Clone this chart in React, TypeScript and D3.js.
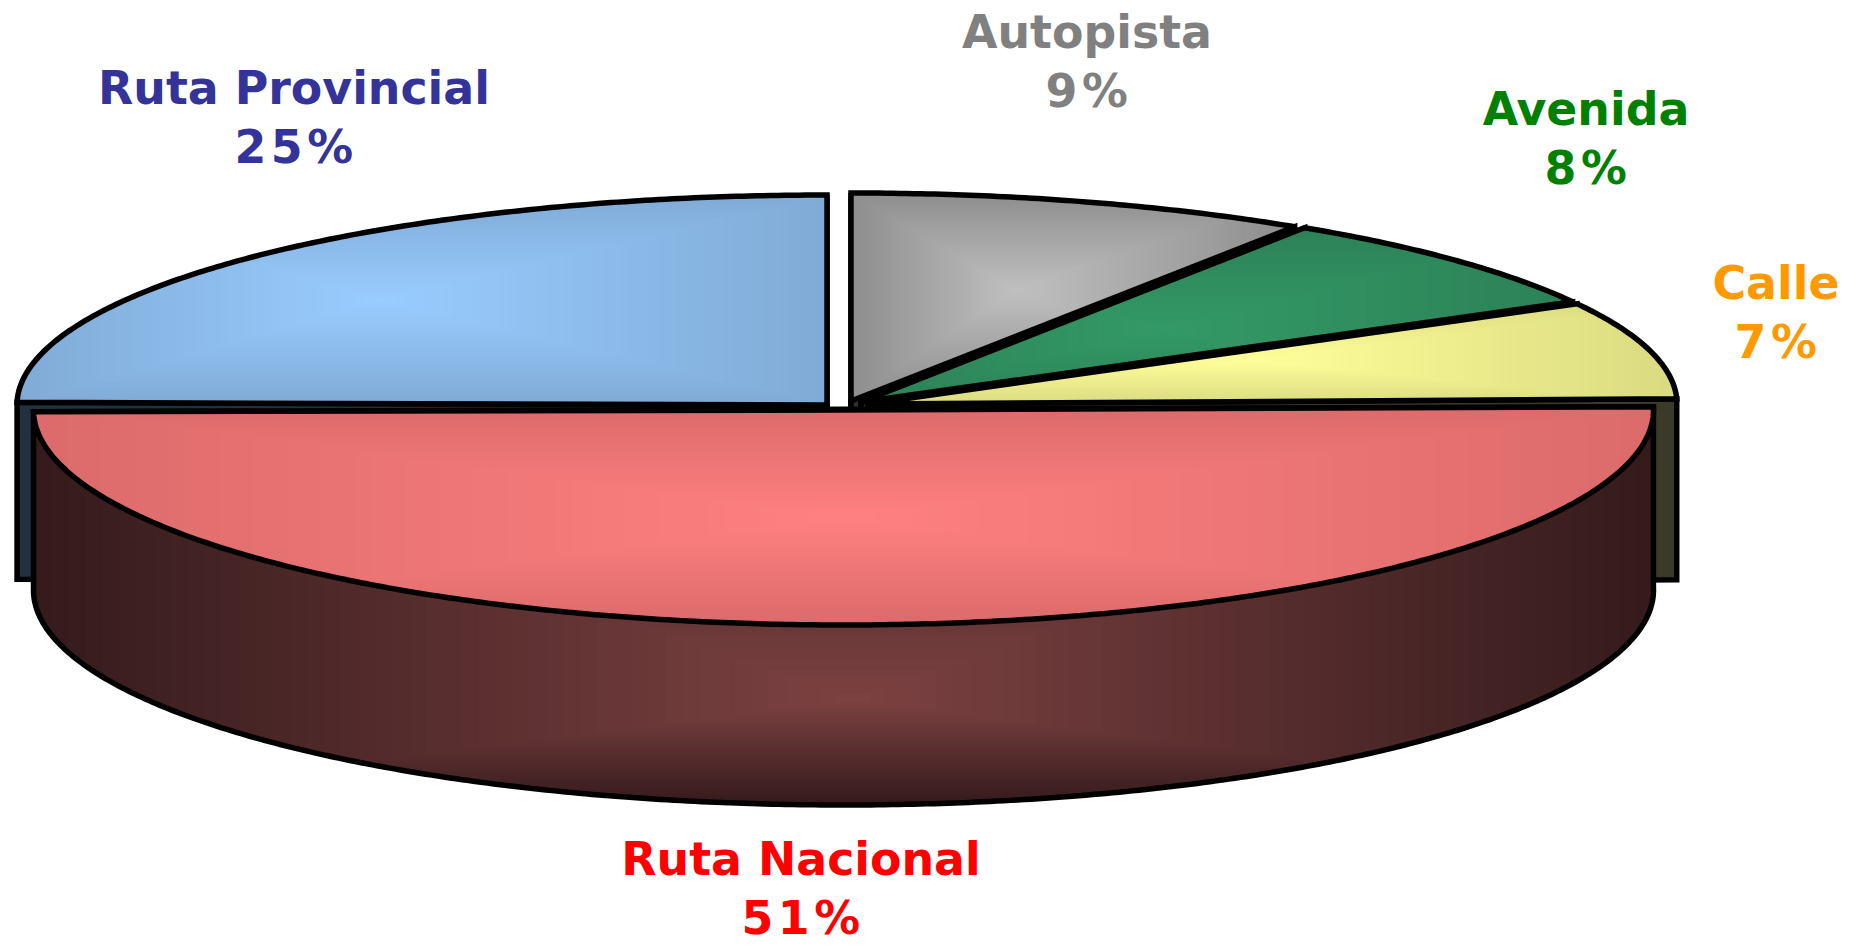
import React from "react";
import * as d3 from "d3";

const categories = ["Autopista", "Avenida", "Calle", "Ruta Nacional", "Ruta Provincial"];
const values = [9.2, 7.8, 7.6, 50.6, 24.8];
const percentLabels = ["9%", "8%", "7%", "51%", "25%"];

const W = 1854, H = 945;
const DEG = Math.PI / 180;

type Style = {
  cx: number; cy: number; rx: number; ry: number; depth: number;
  startNudge: number; endNudge: number;
  bright: string; dark: string; sideBright: string; sideDark: string;
  focus: [number, number];
  label: [number, number]; labelColor: string;
};

const styles: Style[] = [
  { cx: 851, cy: 401, rx: 812, ry: 208, depth: 178, startNudge: 0, endNudge: 0, bright: "#bfbfbf", dark: "#8e8e8e", sideBright: "#3a3a3a", sideDark: "#333333", focus: [1015, 290], label: [1087, 32], labelColor: "#808080" },
  { cx: 861, cy: 402, rx: 812, ry: 208, depth: 178, startNudge: 0, endNudge: 0, bright: "#339966", dark: "#2c8257", sideBright: "#143d29", sideDark: "#143d29", focus: [1160, 330], label: [1586, 109], labelColor: "#008000" },
  { cx: 868, cy: 404, rx: 809, ry: 208, depth: 181, startNudge: 0, endNudge: 0, bright: "#ffff99", dark: "#dada82", sideBright: "#3b3927", sideDark: "#3b3927", focus: [1250, 360], label: [1776, 283], labelColor: "#ff9900" },
  { cx: 843.5, cy: 410, rx: 810, ry: 215, depth: 180, startNudge: 0.6, endNudge: -1.2, bright: "#ff8080", dark: "#dc6b6b", sideBright: "#7c4141", sideDark: "#351b1c", focus: [843.5, 518], label: [801, 859], labelColor: "#ff0000" },
  { cx: 827, cy: 405, rx: 810, ry: 210, depth: 177, startNudge: 0, endNudge: 0, bright: "#99ccff", dark: "#80abd6", sideBright: "#22303f", sideDark: "#22303f", focus: [378, 300], label: [294, 88], labelColor: "#333399" },
];

const drawOrder = [0, 1, 4, 2, 3];
const steps = d3.range(0, 48);

const pie = d3.pie<number>().sort(null).value((d) => d);
const arcs = pie(values);

function pointAt(s: Style, a: number, dy = 0): [number, number] {
  return [s.cx + s.rx * Math.sin(a), s.cy - s.ry * Math.cos(a) + dy];
}

function curve(s: Style, a0: number, a1: number, dy = 0): [number, number][] {
  const n = Math.max(2, Math.ceil(Math.abs(a1 - a0) / (0.5 * DEG)));
  const t = d3.scaleLinear().domain([0, n]).range([a0, a1]);
  return d3.range(n + 1).map((i) => pointAt(s, t(i), dy));
}

const line = d3.line<[number, number]>();

function topPath(s: Style, a0: number, a1: number) {
  return line([[s.cx, s.cy], ...curve(s, a0, a1)]) + "Z";
}

function facePath(s: Style, a: number) {
  const p = pointAt(s, a);
  return line([[s.cx, s.cy], p, [p[0], p[1] + s.depth], [s.cx, s.cy + s.depth]]) + "Z";
}

// Outer wall of a slice that faces the viewer, filled up to the chord so no gap shows.
function rimPath(s: Style, a0: number, a1: number) {
  const from = Math.max(a0, 90 * DEG);
  const to = Math.min(a1, 270 * DEG);
  if (to <= from) return null;
  const a = pointAt(s, a0);
  const b = pointAt(s, a1);
  const lower = curve(s, a1, a0, s.depth);
  return line([a, b, ...lower]) + "Z";
}

function nested(
  id: string,
  clip: string,
  box: [number, number, number, number],
  focus: [number, number],
  outer: string,
  inner: string,
) {
  const [x0, y0, x1, y1] = box;
  const col = d3.scaleLinear<string>().domain([0, steps.length - 1]).range([outer, inner]).interpolate(d3.interpolateRgb);
  const frac = d3.scaleLinear().domain([0, steps.length]).range([1, 0]);
  return (
    <g clipPath={`url(#${id})`}>
      <defs>
        <clipPath id={id}><path d={clip} /></clipPath>
      </defs>
      <rect x={0} y={0} width={W} height={H} fill={outer} />
      {steps.map((i) => {
        const t = frac(i);
        return (
          <rect
            key={i}
            x={focus[0] - (focus[0] - x0) * t}
            y={focus[1] - (focus[1] - y0) * t}
            width={(x1 - x0) * t}
            height={(y1 - y0) * t}
            fill={col(i)}
          />
        );
      })}
    </g>
  );
}

export default function App() {
  const stroke = { stroke: "#000", strokeWidth: 5.5, strokeLinejoin: "miter" as const, strokeMiterlimit: 3 };
  return (
    <svg width={W} height={H} viewBox={`0 0 ${W} ${H}`} style={{ position: "absolute", left: 0, top: 0, background: "#fff" }}>
      {drawOrder.map((idx) => {
        const s = styles[idx];
        const a0 = arcs[idx].startAngle + s.startNudge * DEG;
        const a1 = arcs[idx].endAngle + s.endNudge * DEG;
        const top = topPath(s, a0, a1);
        const rim = rimPath(s, a0, a1);
        const pts = curve(s, a0, a1).concat([[s.cx, s.cy]]);
        const box: [number, number, number, number] = [
          d3.min(pts, (p) => p[0])!, d3.min(pts, (p) => p[1])!,
          d3.max(pts, (p) => p[0])!, d3.max(pts, (p) => p[1])!,
        ];
        return (
          <g key={categories[idx]}>
            {idx !== 3 && <path d={facePath(s, a0)} fill={s.sideDark} {...stroke} />}
            {idx !== 3 && <path d={facePath(s, a1)} fill={s.sideDark} {...stroke} />}
            {rim && (
              <>
                {nested(`side-${idx}`, rim, [box[0], s.cy, box[2], s.cy + s.ry + s.depth], [s.cx + 10, s.cy + s.ry + 75], s.sideDark, s.sideBright)}
                <path d={rim} fill="none" {...stroke} />
              </>
            )}
            {nested(`top-${idx}`, top, box, s.focus, s.dark, s.bright)}
            <path d={top} fill="none" {...stroke} />
          </g>
        );
      })}
      {categories.map((c, i) => (
        <text
          key={c}
          x={styles[i].label[0]}
          y={styles[i].label[1]}
          fill={styles[i].labelColor}
          textAnchor="middle"
          fontFamily="'DejaVu Sans', Verdana, sans-serif"
          fontWeight="bold"
          fontSize={45.8}
        >
          <tspan x={styles[i].label[0]} dy={16}>{c}</tspan>
          <tspan x={styles[i].label[0] + 2} dy={59} letterSpacing={4.5}>{percentLabels[i]}</tspan>
        </text>
      ))}
    </svg>
  );
}
